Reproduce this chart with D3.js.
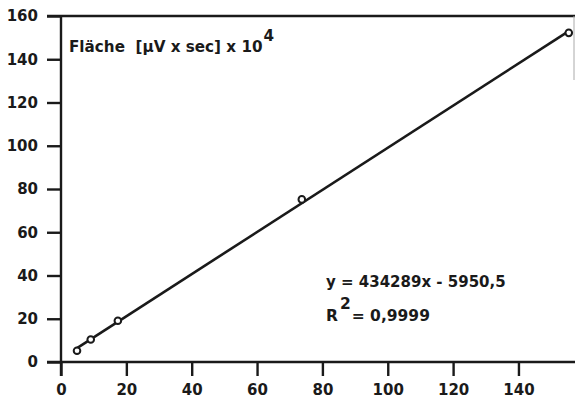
<!DOCTYPE html>
<html>
<head>
<meta charset="utf-8">
<script src="https://cdn.jsdelivr.net/npm/d3@7"></script>
<style>
  html, body { margin: 0; padding: 0; background: #fff; }
  svg { display: block; }
  text { font-family: "DejaVu Sans", "Liberation Sans", Arial, sans-serif; font-weight: bold; fill: #1a1a1a; white-space: pre; }
</style>
</head>
<body>
<svg id="chart" width="575" height="401"></svg>
<script>
// Calibration points: concentration vs. peak area (µV·sec × 10^4)
const concentration = [4.9, 9.1, 17.4, 73.7, 155.4];
const peakArea = [5.2, 10.4, 19.1, 75.2, 152.2];
const xTicks = [0, 20, 40, 60, 80, 100, 120, 140];
const yTicks = [0, 20, 40, 60, 80, 100, 120, 140, 160];
const axisTitle = "Fläche  [µV x sec] x 10";
const axisTitleExp = "4";
const equationText = "y = 434289x - 5950,5";
const r2Label = "R";
const r2Exp = "2";
const r2Value = "= 0,9999";

const svg = d3.select("#chart");
const ink = "#1a1a1a";
const font = "DejaVu Sans, Liberation Sans, Arial, sans-serif";

const x = d3.scaleLinear().domain([0, 157]).range([61, 574]);
const y = d3.scaleLinear().domain([0, 160]).range([362, 16]);

// Least-squares line through the calibration points
const n = concentration.length;
const mx = d3.mean(concentration), my = d3.mean(peakArea);
let sxy = 0, sxx = 0;
for (let i = 0; i < n; i++) {
  sxy += (concentration[i] - mx) * (peakArea[i] - my);
  sxx += (concentration[i] - mx) ** 2;
}
const slope = sxy / sxx, intercept = my - slope * mx;
const x0 = d3.min(concentration), x1 = d3.max(concentration);

// Frame: top border line and faint right edge
svg.append("line")
  .attr("x1", 47).attr("x2", 575)
  .attr("y1", y(160)).attr("y2", y(160))
  .attr("stroke", ink).attr("stroke-width", 2.4);
svg.append("line")
  .attr("x1", 574).attr("x2", 574)
  .attr("y1", y(160)).attr("y2", 80)
  .attr("stroke", "#aaa").attr("stroke-width", 1);

// Y axis
const yAxis = d3.axisLeft(y).tickValues(yTicks).tickSize(14).tickPadding(9).tickFormat(d3.format("d"));
const gy = svg.append("g").attr("transform", `translate(${x(0)},0)`).call(yAxis);
gy.select(".domain").remove();
gy.append("line").attr("x1", 0).attr("x2", 0).attr("y1", y(160) - 1).attr("y2", 376)
  .attr("stroke", ink).attr("stroke-width", 2.4);
gy.selectAll(".tick line").attr("stroke", ink).attr("stroke-width", 2.4);
gy.selectAll(".tick text").attr("font-size", 15).attr("fill", ink)
  .attr("font-family", font).attr("font-weight", "bold");

// X axis
const xAxis = d3.axisBottom(x).tickValues(xTicks).tickSize(14).tickPadding(8).tickFormat(d3.format("d"));
const gx = svg.append("g").attr("transform", `translate(0,${y(0)})`).call(xAxis);
gx.select(".domain").remove();
gx.append("line").attr("x1", 47).attr("x2", 575).attr("y1", 0).attr("y2", 0)
  .attr("stroke", ink).attr("stroke-width", 2.4);
gx.selectAll(".tick line").attr("stroke", ink).attr("stroke-width", 2.4);
gx.selectAll(".tick text").attr("font-size", 15).attr("fill", ink)
  .attr("font-family", font).attr("font-weight", "bold");

// Trend line
svg.append("line")
  .attr("x1", x(x0)).attr("y1", y(slope * x0 + intercept))
  .attr("x2", x(x1)).attr("y2", y(slope * x1 + intercept))
  .attr("stroke", ink).attr("stroke-width", 2.6);

// Markers
svg.selectAll("circle.pt").data(concentration).join("circle")
  .attr("class", "pt")
  .attr("cx", d => x(d))
  .attr("cy", (d, i) => y(peakArea[i]))
  .attr("r", 3.3)
  .attr("fill", "#fff").attr("stroke", ink).attr("stroke-width", 2);

// Axis title inside the plot
const t = svg.append("text").attr("x", 69).attr("y", 52).attr("font-size", 15.2);
t.append("tspan").text(axisTitle);
t.append("tspan").attr("dy", -11).attr("dx", 1).text(axisTitleExp);

// Regression equation
svg.append("text").attr("x", 326).attr("y", 287).attr("font-size", 15).text(equationText);
const r = svg.append("text").attr("x", 326).attr("y", 321).attr("font-size", 15.5);
r.append("tspan").text(r2Label);
r.append("tspan").attr("dy", -12).attr("dx", 2).text(r2Exp);
r.append("tspan").attr("dy", 12).attr("dx", 1).text(r2Value);
</script>
</body>
</html>
